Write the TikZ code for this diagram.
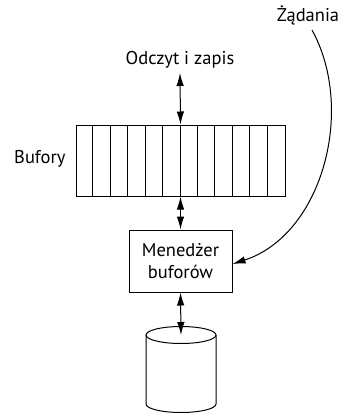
\documentclass[tikz,border=0pt]{standalone}
\usepackage{fontspec}
\setmainfont{PT Sans}
\usetikzlibrary{arrows.meta}
\begin{document}
\begin{tikzpicture}[x=1pt,y=-1pt,
  line width=1pt,
  lbl/.style={inner sep=0pt,font=\fontsize{18.5}{20}\selectfont},
  tip/.tip={Latex[length=13pt,width=7.5pt]},
  dbl/.style={tip-tip},
  one/.style={-tip}]
\useasboundingbox (0,0) rectangle (342,415);
% buffers
\node[draw,minimum width=209pt,minimum height=71pt,inner sep=0pt] (buf) at (180.5,160.5) {};
\foreach \i in {1,...,11} {
  \draw ([xshift=\i*17.42pt]buf.north west) -- ([xshift=\i*17.42pt]buf.south west);
}
\node[lbl,anchor=east] (buflbl) at (66,159) {Bufory};
\node[lbl] (rw) at (180,60) {Odczyt i zapis};
\coordinate (rwb) at (180,73);
\draw[dbl] (rwb) -- (buf.north);
% manager
\node[draw,minimum width=103pt,minimum height=62pt,inner sep=0pt,align=center,
  font=\fontsize{18.5}{22}\selectfont] (mgr) at (180.5,261) {Menedżer\\buforów};
\draw[dbl] (buf.south) -- (mgr.north);
% cylinder
\coordinate (ctop) at (181,335);
\draw (146,335) arc[start angle=180,end angle=0,x radius=35,y radius=-8.5]
  -- (216,404) arc[start angle=0,end angle=-180,x radius=35,y radius=-8.5] -- cycle;
\draw (146,335) arc[start angle=180,end angle=360,x radius=35,y radius=-8.5];
\draw[dbl] (mgr.south) -- (ctop);
% requests
\node[lbl] (req) at (308,15) {Żądania};
\coordinate (reqs) at (312,30);
\draw[one] (reqs) .. controls (356,110) and (322,235) .. (mgr.east |- 0,264);
\end{tikzpicture}
\end{document}
